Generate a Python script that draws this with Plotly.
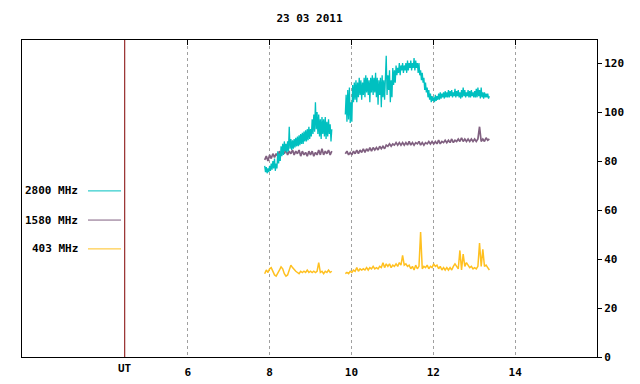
import plotly.graph_objects as go

# ---------------- data ----------------
title_text = "23 03 2011"
series_names = ["2800 MHz", "1580 MHz", "403 MHz"]
series_colors = ["#00c0c0", "#806080", "#ffc020"]

x_tick_vals = [6, 8, 10, 12, 14]
x_tick_text = ["6", "8", "10", "12", "14"]
y_tick_vals = [0, 20, 40, 60, 80, 100, 120]
ut_position = 4.46

# morning segment starts at 7.88 UT, afternoon segment at 9.85 UT
am_start, pm_start = 7.88, 9.85
cyan_step, purple_step, yellow_step = 0.02, 0.04, 0.04

cyan_am = [78, 75.5, 77.5, 75, 77, 75.5, 78, 76, 79, 76.5,
           80, 77, 81, 76, 79, 77, 84, 79, 83, 80,
           86, 82, 87, 82.5, 88, 84, 87, 83.5, 88, 84,
           94, 85, 89, 84.5, 88.5, 85, 89, 85.5, 89.5, 86,
           90, 86, 90.5, 86.5, 91, 87, 91.5, 87, 92, 88,
           92.5, 88, 93, 88.5, 94, 89, 93, 90, 97, 91,
           99, 92, 104, 93, 100, 91, 99, 90, 97, 89,
           98, 91, 97, 90, 98, 89, 96, 90, 97, 91,
           95, 88, 93]
cyan_pm = [99, 107, 96, 109, 97, 110, 95.5, 104, 96, 111,
           104, 112, 105, 113, 104, 112, 106, 114, 107, 113,
           105, 112, 107, 114, 106, 115, 108, 114, 107, 113,
           104, 114, 108, 115, 107, 114, 108, 116, 106, 114,
           103, 113, 107, 114, 102, 115, 106, 113, 105, 116,
           123, 107, 115, 109, 117, 104, 113, 106, 118, 111,
           117, 112, 119, 115, 118, 116, 120, 115, 119, 117,
           120, 116, 119, 117, 120, 116, 121, 117, 120, 118,
           121, 117, 120, 118, 122, 117, 121, 118, 120, 116,
           120, 115, 117, 113, 116, 112, 114, 109, 112, 108,
           110, 106, 109, 105, 107.5, 104, 106.5, 104.5, 106, 104,
           107, 104.5, 106.5, 105, 107.5, 105, 108, 105.5, 107.5, 106,
           108, 105.5, 108.5, 106, 108, 106, 109, 106, 108.5, 106.5,
           109, 106, 108, 106.5, 109.5, 106, 108.5, 106.5, 109, 106,
           108, 105.5, 109, 106, 110, 106.5, 109, 106, 108, 106.5,
           109, 106, 108.5, 106, 109, 106.5, 108, 106, 108.5, 106,
           109.5, 106, 110, 106.5, 109, 105.5, 110, 106, 108, 105.5,
           108, 106, 107.5, 106, 107.5, 105.5, 106.5]

purple_am = [80.5, 82, 80, 82.5, 81, 83, 81.5, 83, 82, 84, 82.5, 84.5, 83, 84.5, 82.5, 84, 83,
             84.5, 82.5, 84, 83, 84.5, 82, 84, 82.5, 83.5, 82, 84, 82.5, 84, 82, 83.5, 82.5,
             84.5, 82.5, 85, 82.5, 84, 83, 84.5, 82.5, 84]
purple_pm = [83, 84, 82.5, 83.5, 82.5, 84, 83, 84.5, 83, 84.5, 83.5, 85, 83.5, 85, 84, 85.5, 84,
             85.5, 84.5, 85.5, 84.5, 86, 85, 86, 85, 86.5, 86, 87, 86, 87, 86.5, 87.5, 86.5, 87.5,
             86.5, 87.5, 86.5, 87.5, 86.5, 88, 86.5, 87.5, 86.5, 87.5, 87, 88, 86.5, 87.5, 86.5,
             87.5, 87, 88, 87, 88, 87, 88, 87, 88.5, 87, 88, 87.5, 88.5, 87.5, 88.5, 87.5, 89,
             87.5, 88.5, 88, 89, 88, 89.5, 88, 89, 88, 89, 88, 89, 88, 89, 88, 89, 94, 88, 89,
             88, 89.5, 88.5, 89]

yellow_am = [34, 35.5, 34.5, 36, 36.5, 35, 33.5, 33, 34, 35.5, 36.8, 36, 34, 33, 33.5, 35.5, 37.5,
             36.5, 35.5, 35, 34.5, 34, 35, 34.5, 35, 34.5, 35.5, 34.5, 35, 34.5, 35, 34.5, 35,
             38.5, 34.5, 35, 34, 35, 34.5, 35.5, 34.5, 35]
yellow_pm = [34, 34.5, 34, 35, 34.5, 35.5, 35, 36.5, 35, 36, 35.5, 36, 35.5, 36.5, 35.5, 36.5, 36,
             37, 36, 36.5, 36, 37, 36.5, 38.5, 36.5, 38, 37, 38, 36.5, 37.5, 37, 38, 37, 38.5,
             37.5, 41.5, 37.5, 38, 37, 37.5, 36, 37, 35.5, 37.5, 36, 37, 51, 36, 37, 36.5, 37.5,
             36, 37, 36.5, 38, 37, 37.5, 36, 37, 35.5, 36.5, 35.5, 36.5, 35.5, 36.5, 35.5, 37,
             38, 37, 36, 43.5, 35.5, 42, 37, 38.5, 37.5, 36.5, 37, 36, 36.5, 36, 37, 46.5, 37,
             44, 37, 37.5, 36.5, 35.5]


def times(start, step, n):
    return [round(start + step * i, 3) for i in range(n)]


def joined(am, pm, step):
    xs = times(am_start, step, len(am)) + [None] + times(pm_start, step, len(pm))
    ys = am + [None] + pm
    return xs, ys


series = [(cyan_am, cyan_pm, cyan_step, 1.3),
          (purple_am, purple_pm, purple_step, 1.7),
          (yellow_am, yellow_pm, yellow_step, 1.5)]

# ---------------- figure ----------------
FONT = "DejaVu Sans Mono"
fig = go.Figure()

for idx in [1, 2, 0]:
    am, pm, stp, lw = series[idx]
    xs, ys = joined(am, pm, stp)
    fig.add_trace(go.Scatter(x=xs, y=ys, mode="lines", name=series_names[idx],
                             line=dict(color=series_colors[idx], width=lw),
                             connectgaps=False, showlegend=False, hoverinfo="skip"))

fig.add_trace(go.Scatter(x=[None], y=[None], xaxis="x2", showlegend=False))

fig.update_layout(
    width=640, height=384,
    margin=dict(l=22, r=43, t=40, b=27, autoexpand=False),
    paper_bgcolor="white", plot_bgcolor="white",
    font=dict(family=FONT, size=11, color="black", weight="bold"),
    title=dict(text=title_text, x=0.4836, xanchor="center", y=0.953, yanchor="middle",
               font=dict(family=FONT, size=11, color="black", weight="bold")),
    xaxis=dict(range=[1.95, 16.0], tickvals=x_tick_vals, ticktext=x_tick_text,
               showgrid=True, gridcolor="#a0a0a0", griddash="3px,3px", gridwidth=1,
               showline=True, linecolor="black", linewidth=1, mirror=True,
               ticks="", ticklabelstandoff=5, zeroline=False, automargin=False,
               tickfont=dict(family=FONT, size=11, weight="bold")),
    xaxis2=dict(range=[1.95, 16.0], overlaying="x", side="top", tickvals=x_tick_vals,
                showticklabels=False, ticks="inside", ticklen=5, tickcolor="black",
                showgrid=False, zeroline=False, showline=False, automargin=False),
    yaxis=dict(range=[0, 129.4], side="right", tickvals=y_tick_vals,
               showgrid=False, zeroline=False, automargin=False,
               showline=True, linecolor="black", linewidth=1, mirror=True,
               ticks="outside", ticklen=4, tickcolor="black",
               tickfont=dict(family=FONT, size=11, weight="bold")),
    showlegend=False,
)

fig.add_shape(type="line", xref="x", yref="paper", x0=ut_position, x1=ut_position, y0=0, y1=1,
              line=dict(color="#800000", width=1))
fig.add_annotation(x=ut_position, xref="x", y=-0.035, yref="paper", text="UT", showarrow=False,
                   xanchor="center", yanchor="middle",
                   font=dict(family=FONT, size=11, color="black", weight="bold"))

legend_y = [0.524, 0.432, 0.341]
for name, color, ly in zip(series_names, series_colors, legend_y):
    fig.add_annotation(x=0.1009, xref="paper", y=ly, yref="paper", text=name, showarrow=False,
                       xanchor="right", yanchor="middle",
                       font=dict(family=FONT, size=11, color="black", weight="bold"))
    fig.add_shape(type="line", xref="paper", yref="paper", x0=0.1148, x1=0.1722, y0=ly, y1=ly,
                  line=dict(color=color, width=1))

fig.write_html("out.html", config={"displayModeBar": False},
               post_script="document.body.style.margin='0';")
